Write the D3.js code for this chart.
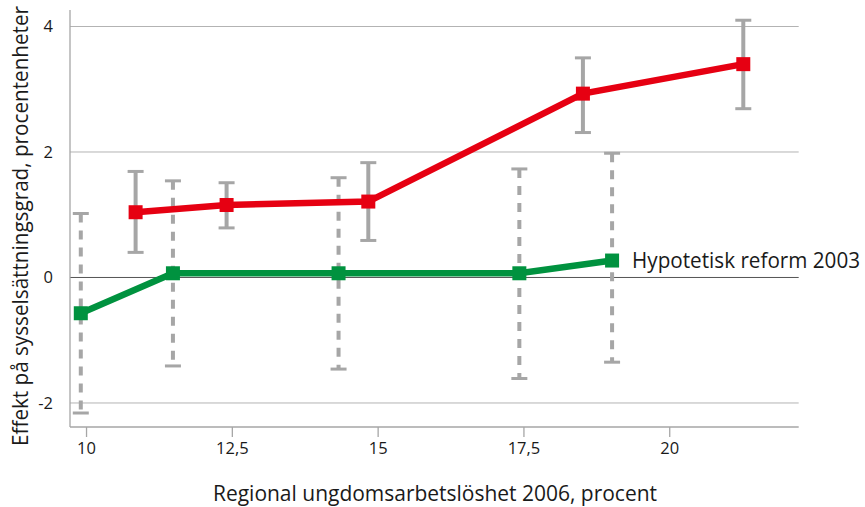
<!DOCTYPE html>
<html><head><meta charset="utf-8">
<script src="https://cdn.jsdelivr.net/npm/d3@7"></script>
<style>body{margin:0;background:#fff}svg{display:block}text{font-family:"Open Sans",sans-serif;fill:#1a1a1a}</style>
</head><body><svg id="c" width="865" height="507"></svg>
<script>
// Data
const redX = [10.85, 12.41, 14.84, 18.52, 21.27];
const redY = [1.04, 1.155, 1.21, 2.93, 3.40];
const redLo = [0.40, 0.79, 0.59, 2.31, 2.69];
const redHi = [1.69, 1.51, 1.83, 3.50, 4.10];
const greenX = [9.91, 11.49, 14.33, 17.43, 19.02];
const greenY = [-0.57, 0.067, 0.067, 0.067, 0.27];
const greenLo = [-2.16, -1.41, -1.46, -1.61, -1.35];
const greenHi = [1.02, 1.54, 1.59, 1.73, 1.98];
const xTicks = [10, 12.5, 15, 17.5, 20];
const yTicks = [-2, 0, 2, 4];
const seriesLabel = "Hypotetisk reform 2003";
const xTitle = "Regional ungdomsarbetslöshet 2006, procent";
const yTitle = "Effekt på sysselsättningsgrad, procentenheter";

const svg = d3.select("#c");
const L = 70, R = 798.7, T = 10, B = 427;
const x = d3.scaleLinear().domain([9.725, 22.22]).range([L, R]);
const y = d3.scaleLinear().domain([-2.383, 4.263]).range([B, T]);
const fmt = d => String(d).replace(".", ",");

// gridlines
svg.append("g").selectAll("line").data(yTicks).join("line")
  .attr("x1", L).attr("x2", R).attr("y1", d => y(d)).attr("y2", d => y(d))
  .attr("stroke", d => d === 0 ? "#555" : "#b3b3b3").attr("stroke-width", 1);

// axes
const xa = svg.append("g").attr("transform", `translate(0,${B})`)
  .call(d3.axisBottom(x).tickValues(xTicks).tickFormat(fmt).tickSize(10).tickPadding(5));
xa.select(".domain").attr("stroke", "#a6a6a6").attr("stroke-width", 1.3).attr("d", `M${L},0H${R}`);
xa.selectAll(".tick line").attr("stroke", "#a6a6a6").attr("stroke-width", 1.3);
xa.selectAll(".tick text").attr("font-size", 16.5).attr("fill", "#1a1a1a").attr("font-family", "Open Sans");

const ya = svg.append("g").attr("transform", `translate(${L},0)`)
  .call(d3.axisLeft(y).tickValues(yTicks).tickFormat(d => String(d)).tickSize(0).tickPadding(17));
ya.select(".domain").attr("stroke", "#a6a6a6").attr("stroke-width", 1.3).attr("d", `M0,${T}V${B}`);
ya.selectAll(".tick text").attr("font-size", 16.5).attr("fill", "#1a1a1a").attr("font-family", "Open Sans");

// error bars
function errBars(xs, lo, hi, dashed) {
  const g = svg.append("g");
  xs.forEach((xv, i) => {
    g.append("line").attr("x1", x(xv)).attr("x2", x(xv)).attr("y1", y(hi[i])).attr("y2", y(lo[i]))
      .attr("stroke", "#a6a6a6").attr("stroke-width", 4)
      .attr("stroke-dasharray", dashed ? "9,8" : null);
    [lo[i], hi[i]].forEach(v => g.append("line").attr("x1", x(xv) - 8).attr("x2", x(xv) + 8)
      .attr("y1", y(v)).attr("y2", y(v)).attr("stroke", "#a6a6a6").attr("stroke-width", 3));
  });
}
errBars(greenX, greenLo, greenHi, true);
errBars(redX, redLo, redHi, false);

// lines + markers
function series(xs, ys, color) {
  const pts = xs.map((v, i) => [v, ys[i]]);
  svg.append("path").datum(pts)
    .attr("d", d3.line().x(d => x(d[0])).y(d => y(d[1])))
    .attr("fill", "none").attr("stroke", color).attr("stroke-width", 6.5);
  svg.append("g").selectAll("rect").data(pts).join("rect")
    .attr("x", d => x(d[0]) - 7).attr("y", d => y(d[1]) - 7)
    .attr("width", 14).attr("height", 14).attr("fill", color);
}
series(greenX, greenY, "#00923f");
series(redX, redY, "#e60012");

// series label
svg.append("text").attr("x", x(greenX[4]) + 20).attr("y", y(greenY[4]) + 7.5)
  .attr("font-size", 21).attr("textLength", 228).attr("lengthAdjust", "spacingAndGlyphs").text(seriesLabel);

// axis titles
svg.append("text").attr("x", 435).attr("y", 501).attr("text-anchor", "middle")
  .attr("font-size", 21).attr("textLength", 444).attr("lengthAdjust", "spacingAndGlyphs").text(xTitle);
svg.append("text").attr("transform", `translate(28,${(5 + 447) / 2}) rotate(-90)`)
  .attr("text-anchor", "middle").attr("font-size", 21).attr("textLength", 440).attr("lengthAdjust", "spacingAndGlyphs").text(yTitle);
</script></body></html>
